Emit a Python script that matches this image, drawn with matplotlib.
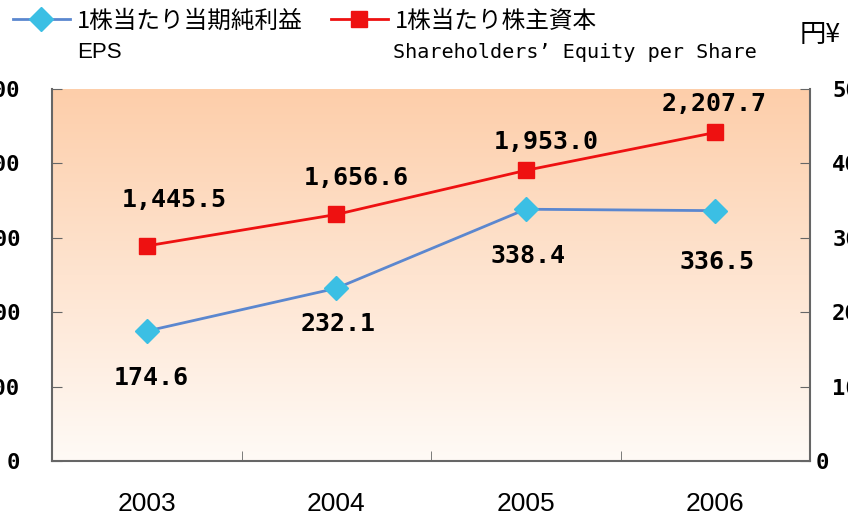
import numpy as np
import matplotlib.pyplot as plt
from matplotlib.transforms import ScaledTranslation

# data
years = ['2003', '2004', '2005', '2006']
eps = [174.6, 232.1, 338.4, 336.5]
equity = [1445.5, 1656.6, 1953.0, 2207.7]
left_ticks = [0, 500, 1000, 1500, 2000, 2500]
right_ticks = [0, 100, 200, 300, 400, 500]

# label offsets (pixels) from each point
eq_off = [(28, 46), (20, 36), (20, 28), (-1, 28)]
eps_off = [(5, -47), (2, -36), (2, -47), (2, -51)]

RED = '#EE1111'
BLUE_LINE = '#5B87CF'
BLUE_MK = '#3BBFE4'
GREY = '#666666'
MONO = 'DejaVu Sans Mono'

fig = plt.figure(figsize=(8.48, 5.2), dpi=100)
ax = fig.add_axes([52 / 848, 59 / 520, 758 / 848, 372 / 520])
ax2 = ax.twinx()

# peach gradient background
top = np.array([253, 206, 170]) / 255
bot = np.array([255, 250, 246]) / 255
t = np.linspace(0, 1, 256)[:, None]
grad = (top * (1 - t) + bot * t)[:, None, :]
ax.imshow(grad, extent=[0, 1, 0, 1], transform=ax.transAxes,
          aspect='auto', zorder=0)

x = np.arange(len(years))
l_eq, = ax.plot(x, equity, color=RED, lw=2, marker='s', ms=11,
                mfc=RED, mec=RED, zorder=3, label='1株当たり株主資本')
l_eps, = ax2.plot(x, eps, color=BLUE_LINE, lw=2, marker='D', ms=12,
                  mfc=BLUE_MK, mec=BLUE_MK, zorder=3, label='1株当たり当期純利益')

for i, v in enumerate(equity):
    ax.annotate(f'{v:,.1f}', (x[i], v), xytext=eq_off[i], textcoords='offset pixels',
                ha='center', va='center', fontsize=18, fontweight='bold',
                family=MONO, zorder=5)
for i, v in enumerate(eps):
    ax2.annotate(f'{v:,.1f}', (x[i], v), xytext=eps_off[i], textcoords='offset pixels',
                 ha='center', va='center', fontsize=18, fontweight='bold',
                 family=MONO, zorder=5)

ax.set_xlim(-0.5, 3.5)
ax.set_xticks(x)
ax.set_xticklabels(years, fontsize=19, family=['Liberation Sans Narrow', 'Liberation Sans'])
ax.set_xticks([0.5, 1.5, 2.5], minor=True)
ax.tick_params(axis='x', which='major', length=0, pad=22)
ax.tick_params(axis='x', which='minor', direction='in', length=7, color=GREY)

ax.set_ylim(0, 2500)
ax.set_yticks(left_ticks)
ax.set_yticklabels([str(v) for v in left_ticks], fontsize=16, fontweight='bold', family=MONO)
ax.tick_params(axis='y', direction='in', length=7, color=GREY, pad=23)

ax2.set_ylim(0, 500)
ax2.set_yticks(right_ticks)
ax2.set_yticklabels([str(v) for v in right_ticks], fontsize=16, fontweight='bold', family=MONO)
ax2.tick_params(axis='y', direction='in', length=7, color=GREY, pad=16)
lbl0 = ax2.get_yticklabels()[0]
lbl0.set_transform(lbl0.get_transform() + ScaledTranslation(-17 / 100, 0, fig.dpi_scale_trans))

for a in (ax, ax2):
    a.spines['top'].set_visible(False)
    for s in a.spines.values():
        s.set_color(GREY)
        s.set_linewidth(1.5)
ax2.spines['left'].set_visible(False)
ax2.spines['bottom'].set_visible(False)
ax.spines['right'].set_visible(False)

leg = ax2.legend([l_eps, l_eq], [l_eps.get_label(), l_eq.get_label()],
                 loc='center left', bbox_to_anchor=(13 / 848, 1 - 21 / 520),
                 bbox_transform=fig.transFigure, ncol=2, frameon=False,
                 prop={'family': 'Noto Sans CJK JP', 'size': 17},
                 handlelength=2.4, handletextpad=0.3, columnspacing=1.2,
                 borderpad=0, borderaxespad=0, numpoints=1)

fig.text(77 / 848, 1 - 53 / 520, 'EPS', ha='left', va='center',
         fontsize=16, family='Liberation Sans')
fig.text(393 / 848, 1 - 53 / 520, 'Shareholders’ Equity per Share', ha='left', va='center',
         fontsize=14.5, family=MONO)
fig.text(800 / 848, 1 - 35 / 520, '円¥', ha='left', va='center',
         fontsize=19, family=['Noto Sans CJK JP', 'DejaVu Sans'])

fig.savefig('out.png', dpi=100)
